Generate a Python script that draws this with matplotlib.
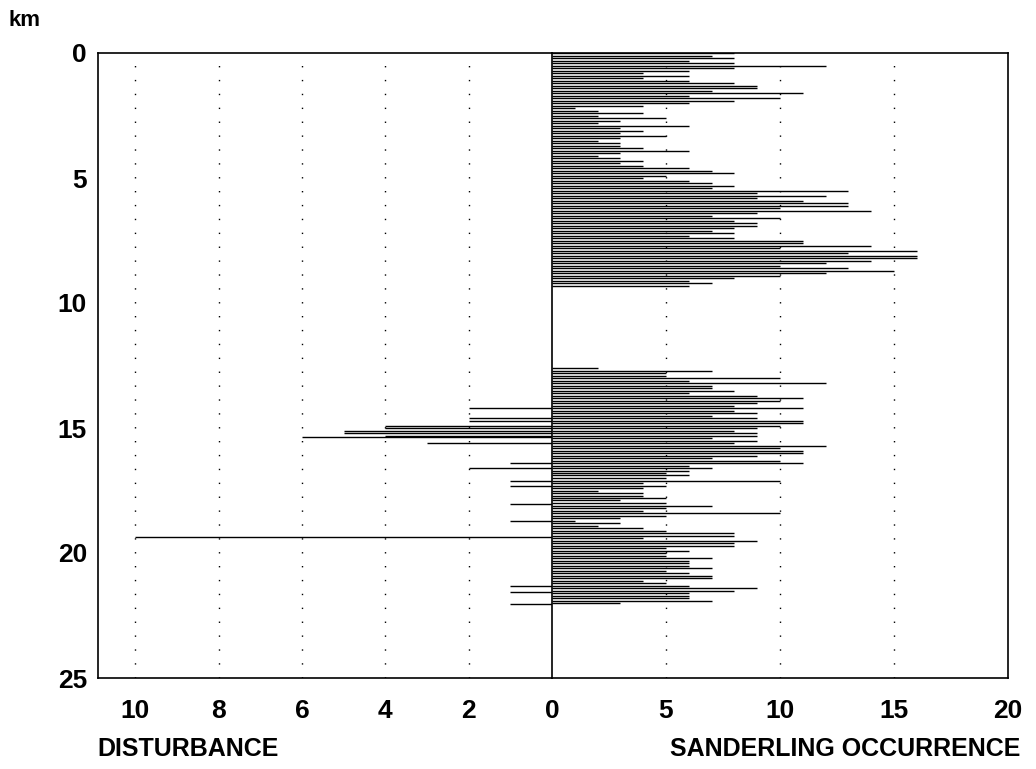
import numpy as np
import matplotlib
matplotlib.use("Agg")
import matplotlib.pyplot as plt

# ---------------- data ----------------
# Sanderling occurrence, section 1 (km 0.0 .. 9.3, every 0.1 km)
sand_km_start_1 = 0.0
sand_vals_1 = [8, 7, 8, 6, 8, 12, 8, 6, 4, 6,
               4, 6, 8, 9, 9, 7, 11, 6, 10, 8,
               6, 4, 1, 2, 4, 2, 5, 3, 2, 6,
               3, 4, 3, 5, 3, 2, 3, 3, 4, 6,
               3, 2, 3, 4, 3, 4, 6, 7, 8, 5,
               4, 6, 7, 8, 7, 13, 9, 12, 9, 11,
               13, 13, 10, 14, 9, 7, 10, 8, 9, 9,
               8, 7, 8, 6, 8, 11, 11, 14, 10, 16,
               13, 16, 16, 14, 12, 10, 13, 15, 12, 10,
               8, 6, 7, 6]
# Sanderling occurrence, section 2 (km 12.6 .. 22.0, every 0.1 km)
sand_km_start_2 = 12.6
sand_vals_2 = [2, 7, 5, 5, 10, 6, 12, 7, 7, 8,
               6, 9, 11, 10, 9, 8, 11, 8, 9, 7,
               9, 11, 11, 10, 9, 8, 9, 9, 7, 9,
               8, 12, 10, 11, 11, 9, 7, 10, 11, 6,
               7, 6, 5, 6, 5, 10, 4, 5, 4, 2,
               4, 4, 5, 3, 5, 7, 5, 4, 10, 5,
               3, 1, 3, 2, 4, 5, 8, 8, 4, 9,
               8, 8, 5, 6, 5, 5, 7, 6, 6, 6,
               7, 5, 6, 7, 7, 4, 5, 6, 9, 8,
               6, 6, 6, 7, 3]
# Disturbance
dist_km = [14.2, 14.6, 14.7, 14.9, 15.0, 15.1, 15.2, 15.3, 15.35, 15.6,
           16.4, 16.6, 17.1, 17.3, 18.05, 18.7, 19.35, 21.3, 21.55, 22.05]
dist_vals = [2, 2, 2, 4, 4, 5, 5, 4, 6, 3,
             1, 2, 1, 1, 1, 1, 10, 1, 1, 1]

y_ticks = [0, 5, 10, 15, 20, 25]
left_ticks = [10, 8, 6, 4, 2]
right_ticks = [5, 10, 15]
right_labels_ticks = [0, 5, 10, 15, 20]

sand_km_1 = [round(sand_km_start_1 + 0.1 * i, 2) for i in range(len(sand_vals_1))]
sand_km_2 = [round(sand_km_start_2 + 0.1 * i, 2) for i in range(len(sand_vals_2))]

# ---------------- figure ----------------
plt.rcParams['font.family'] = ['Liberation Sans', 'DejaVu Sans']
plt.rcParams['font.weight'] = 'bold'

fig = plt.figure(figsize=(10.36, 7.69), dpi=100)
L, R, B, T = 98 / 1036, 1008 / 1036, 1 - 678 / 769, 1 - 53 / 769
mid = 552 / 1036
axL = fig.add_axes([L, B, mid - L, T - B])
axR = fig.add_axes([mid, B, R - mid, T - B], sharey=axL)

lw_bar = 1.0
axR.hlines(sand_km_1, 0, sand_vals_1, color='black', lw=lw_bar)
axR.hlines(sand_km_2, 0, sand_vals_2, color='black', lw=lw_bar)
axL.hlines(dist_km, 0, dist_vals, color='black', lw=lw_bar)

axL.set_xlim(10.9, 0)
axR.set_xlim(0, 20)
axL.set_ylim(25, 0)

grid_style = dict(color='black', lw=1.0, linestyle=(0, (1, 9)))
for t in left_ticks:
    axL.axvline(t, **grid_style, zorder=0)
for t in right_ticks:
    axR.axvline(t, **grid_style, zorder=0)

for ax in (axL, axR):
    for s in ax.spines.values():
        s.set_linewidth(1.2)
    ax.tick_params(length=0, labelsize=19, pad=15)
axL.spines['right'].set_visible(False)

axL.set_xticks(left_ticks + [0])
axL.set_xticklabels([str(t) for t in left_ticks] + [''])
axR.set_xticks(right_labels_ticks)
axR.set_xticklabels([str(t) for t in right_labels_ticks])
axL.set_yticks(y_ticks)
axL.set_yticklabels([str(t) for t in y_ticks])
axL.tick_params(axis='y', pad=8)
plt.setp(axR.get_yticklabels(), visible=False)

fig.text(9 / 1036, 1 - 20 / 769, 'km', fontsize=16, fontweight='bold', va='center', ha='left')
fig.text(97 / 1036, 1 - 749 / 769, 'DISTURBANCE', fontsize=18, fontweight='bold', va='center', ha='left')
fig.text(1020 / 1036, 1 - 749 / 769, 'SANDERLING OCCURRENCE', fontsize=18, fontweight='bold', va='center', ha='right')

fig.savefig('out.png', dpi=100)
